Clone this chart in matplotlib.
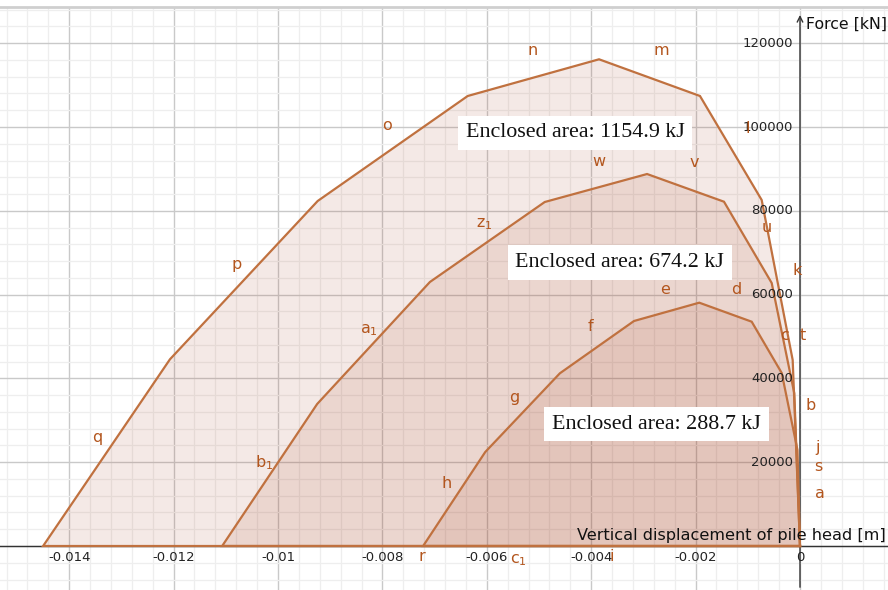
import numpy as np
import matplotlib.pyplot as plt
from matplotlib.ticker import MultipleLocator

# Load-displacement loops (displacement [m], force [kN]), traced anticlockwise from the origin
outer_x = [0.0, -0.00014, -0.000734, -0.001916, -0.00385, -0.006366, -0.00924, -0.01207, -0.0145]
outer_f = [0, 44390, 82580, 107400, 116160, 107400, 82340, 44560, 0]

middle_x = [0.0, -0.000109, -0.000542, -0.001456, -0.00293, -0.00489, -0.00709, -0.00925, -0.01107]
middle_f = [0, 36440, 62770, 82170, 88780, 82100, 63010, 33890, 0]

inner_x = [0.0, -0.000048, -0.00035, -0.000925, -0.00193, -0.00318, -0.0046, -0.00603, -0.00722]
inner_f = [0, 22910, 41290, 53530, 58070, 53700, 41220, 22430, 0]

areas = [1154.9, 674.2, 288.7]

# segment names, anchored at (displacement, force)
seg_labels = [
    ("n", -0.00513, 118300), ("m", -0.00266, 118300), ("o", -0.00792, 100400),
    ("l", -0.00100, 99700), ("w", -0.00386, 91800), ("v", -0.00203, 91600),
    (r"$\mathregular{z_1}$", -0.00604, 76700), ("u", -0.00063, 76000),
    ("k", -0.00006, 65800), ("p", -0.01080, 67300), ("e", -0.00259, 61300),
    ("d", -0.00123, 61300), (r"$\mathregular{a_1}$", -0.00825, 51600),
    ("f", -0.00402, 52500), ("c", -0.00029, 50300), ("t", 0.00006, 50300),
    ("g", -0.00548, 35500), ("b", 0.00021, 33600), ("q", -0.01347, 25800),
    ("j", 0.00034, 23600), (r"$\mathregular{b_1}$", -0.01026, 19800),
    ("s", 0.00036, 18900), ("h", -0.00677, 14800), ("a", 0.00038, 12600),
    ("r", -0.00724, -2600), (r"$\mathregular{c_1}$", -0.00539, -3300),
    ("i", -0.00360, -2600),
]

line_col = "#c0713f"
fill_col = "#a33c1c"
label_col = "#b3561e"

fig = plt.figure(figsize=(8.88, 5.90), dpi=100)
ax = fig.add_axes([0, 0, 1, 583 / 590])

ax.set_xlim(-0.015326, 0.001686)
ax.set_ylim(-10500, 128640)

# grid
ax.xaxis.set_major_locator(MultipleLocator(0.002))
ax.xaxis.set_minor_locator(MultipleLocator(0.0004))
ax.yaxis.set_major_locator(MultipleLocator(20000))
ax.yaxis.set_minor_locator(MultipleLocator(4000))
ax.grid(which="major", color="#c9c9c9", lw=1.0, zorder=0)
ax.grid(which="minor", color="#eeeeee", lw=0.9, zorder=0)
ax.set_axisbelow(True)
ax.tick_params(which="both", length=0, labelleft=False, labelbottom=False)
for side in ["left", "right", "bottom"]:
    ax.spines[side].set_visible(False)
ax.spines["top"].set_color("#cfcfcf")
ax.spines["top"].set_linewidth(2)

# axes through origin
ax.axhline(0, color="#333333", lw=1.0, zorder=2.5)
ax.annotate("", xy=(0, 127400), xytext=(0, -10500),
            arrowprops=dict(arrowstyle="->", color="#333333", lw=1.0,
                            mutation_scale=10), zorder=2.5)

# loops
for xs, fs in [(outer_x, outer_f), (middle_x, middle_f), (inner_x, inner_f)]:
    ax.fill(xs, fs, color=fill_col, alpha=0.11, lw=0, zorder=2)
    ax.plot(xs + [xs[0]], fs + [fs[0]], color=line_col, lw=1.6,
            solid_joinstyle="miter", zorder=3)

# tick labels
for xv in np.arange(-0.014, 0.0001, 0.002):
    txt = "0" if abs(xv) < 1e-9 else f"{xv:.3f}".rstrip("0")
    ax.text(xv, -2700, txt, ha="center", va="center", fontsize=9.5,
            color="#222222", zorder=5)
for fv in range(20000, 120001, 20000):
    ax.text(-0.000135, fv, str(fv), ha="right", va="center", fontsize=9.5,
            color="#222222", zorder=5)

ax.text(0.00012, 124400, "Force [kN]", ha="left", va="center", fontsize=11.3,
        color="#111111", zorder=5)
ax.text(0.00164, 2400, "Vertical displacement of pile head [m]", ha="right",
        va="center", fontsize=11.6, color="#111111", zorder=5)

for lab, xv, fv in seg_labels:
    ax.text(xv, fv, lab, ha="center", va="center", fontsize=11.5,
            color=label_col, zorder=6)

# enclosed-area boxes
box_pos = [(-0.00431, 98600), (-0.00345, 67700), (-0.00275, 29100)]
for a, (xv, fv) in zip(areas, box_pos):
    ax.text(xv, fv, f"Enclosed area: {a} kJ", ha="center", va="center",
            fontsize=15.8, family="Liberation Serif", color="#111111", zorder=7,
            bbox=dict(boxstyle="square,pad=0.35", fc="white", ec="none"))

plt.savefig("out.png", dpi=100)
